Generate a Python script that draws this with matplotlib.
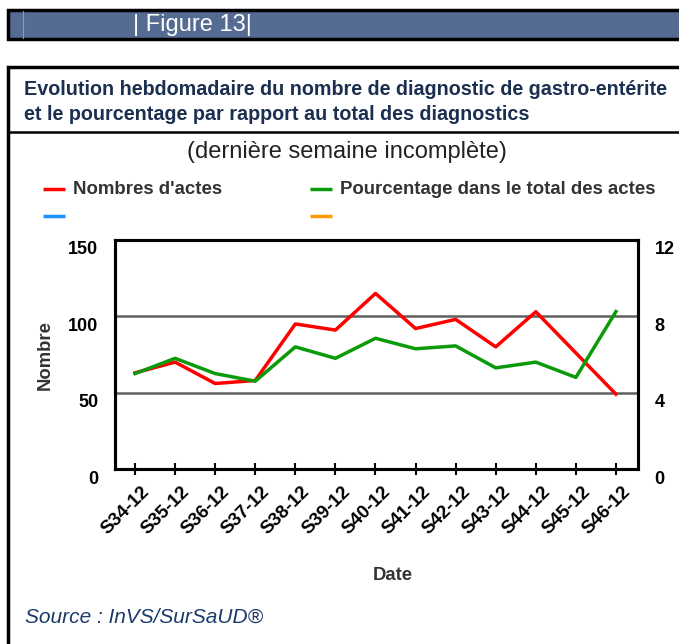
import matplotlib.pyplot as plt
from matplotlib.patches import Rectangle
from matplotlib.transforms import ScaledTranslation

plt.rcParams['font.family'] = ['Liberation Sans', 'DejaVu Sans']

weeks = ["S34-12", "S35-12", "S36-12", "S37-12", "S38-12", "S39-12", "S40-12",
         "S41-12", "S42-12", "S43-12", "S44-12", "S45-12", "S46-12"]
nombres_actes = [63, 70, 56, 58, 95, 91, 115, 92, 98, 80, 103, 76, 49]
pourcentage = [5.0, 5.8, 5.0, 4.6, 6.4, 5.8, 6.85, 6.3, 6.45, 5.3, 5.6, 4.8, 8.25]

legend_labels = ["Nombres d'actes", "Pourcentage dans le total des actes", "", ""]
legend_colors = ["#ff0000", "#0a9a0a", "#1e90ff", "#ff9900"]

W, H = 679, 644
fig = plt.figure(figsize=(W / 100, H / 100), dpi=100)

# background layer in pixel coordinates
bg = fig.add_axes([0, 0, 1, 1])
bg.set_xlim(0, W)
bg.set_ylim(H, 0)
bg.axis("off")

# header bar
bg.add_patch(Rectangle((8, 10), 680, 29, facecolor="#566b91", edgecolor="black", lw=2.5))
bg.plot([23, 23], [11, 38], color="#8a9ab8", lw=0.8)
bg.text(133, 25, "| Figure 13|", color="white", fontsize=17, va="center", ha="left")

# main frame
bg.add_patch(Rectangle((8, 67), 690, 600, facecolor="white", edgecolor="black", lw=2.5))
bg.plot([8, 679], [132, 132], color="black", lw=1.8)
bg.text(24, 89, "Evolution hebdomadaire du nombre de diagnostic de gastro-entérite",
        color="#1b2f50", fontsize=14.2, fontweight="bold", va="center", ha="left")
bg.text(24, 114, "et le pourcentage par rapport au total des diagnostics",
        color="#1b2f50", fontsize=14.2, fontweight="bold", va="center", ha="left")
bg.text(347, 152, "(dernière semaine incomplète)", color="#222222", fontsize=17,
        va="center", ha="center")

# legend, two columns
leg_pos = [(43, 189), (310, 189), (43, 216), (310, 216)]
for (lx, ly), lab, col in zip(leg_pos, legend_labels, legend_colors):
    bg.plot([lx, lx + 22], [ly, ly], color=col, lw=2.5, solid_capstyle="butt")
    bg.text(lx + 30, ly, lab, color="#333333", fontsize=13.4, fontweight="bold",
            va="center", ha="left")

bg.text(45, 355, "Nombre", color="#333333", fontsize=13.3, fontweight="bold",
        rotation=90, va="center", ha="center")
bg.text(393, 575, "Date", color="#333333", fontsize=13.3, fontweight="bold",
        va="center", ha="center")
bg.text(25, 617, "Source : InVS/SurSaUD®", color="#1a3a6a", fontsize=15,
        style="italic", va="center", ha="left")

# chart
ax = fig.add_axes([115 / W, 1 - 469 / H, (638 - 115) / W, (469 - 240) / H])
ax2 = ax.twinx()
x = list(range(len(weeks)))

ax.set_ylim(0, 150)
ax.set_yticks([0, 50, 100, 150])
ax2.set_ylim(0, 12)
ax2.set_yticks([0, 4, 8, 12])
ax.set_xlim(-0.5, 12.55)
ax.set_xticks(x)
ax.set_xticklabels(weeks, rotation=45, ha="right", rotation_mode="anchor",
                   fontsize=13.5, fontweight="bold")

for yv in (50, 100):
    ax.axhline(yv, color="#606060", lw=1.8, zorder=1)

ax.plot(x, nombres_actes, color="#ff0000", lw=2.5, zorder=3)
ax2.plot(x, pourcentage, color="#0a9a0a", lw=2.5, zorder=3)

for a in (ax, ax2):
    for s in a.spines.values():
        s.set_linewidth(2.2)
        s.set_color("black")

ax.tick_params(axis="x", direction="inout", length=9, width=1.5, pad=6)
ax.tick_params(axis="y", length=0, pad=12, labelsize=13)
ax2.tick_params(axis="y", length=0, pad=12, labelsize=13)
for lab in ax.get_yticklabels() + ax2.get_yticklabels():
    lab.set_fontweight("bold")
    lab.set_transform(lab.get_transform() + ScaledTranslation(0, -8 / 100, fig.dpi_scale_trans))
for lab in ax.get_xticklabels():
    lab.set_transform(lab.get_transform() + ScaledTranslation(6 / 100, 0, fig.dpi_scale_trans))

fig.savefig("out.png", dpi=100)
